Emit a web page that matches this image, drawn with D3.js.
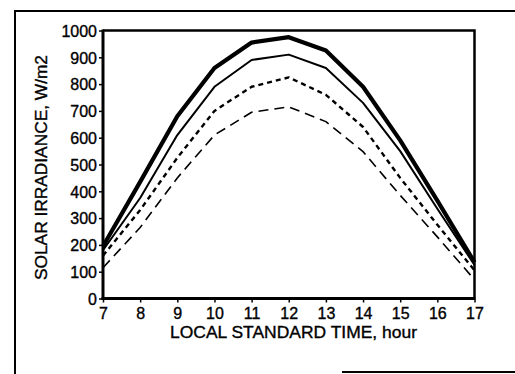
<!DOCTYPE html>
<html>
<head>
<meta charset="utf-8">
<script src="https://cdn.jsdelivr.net/npm/d3@7"></script>
<style>
  html, body { margin: 0; padding: 0; background: #fff; }
  svg { display: block; }
  text { font-family: "Liberation Sans", Arial, Helvetica, sans-serif; fill: #000; stroke: #000; stroke-width: 0.35px; }
</style>
</head>
<body>
<svg id="chart" width="515" height="374"></svg>
<script>
// ---- data ----
const hours = [7, 8, 9, 10, 11, 12, 13, 14, 15, 16, 17];
const seriesThick  = [195, 435, 680, 860, 955, 975, 925, 790, 590, 365, 135];
const seriesThin   = [180, 375, 610, 790, 890, 910, 860, 730, 550, 335, 125];
const seriesShort  = [160, 330, 525, 700, 790, 825, 760, 640, 450, 275, 105];
const seriesLong   = [115, 265, 450, 610, 695, 715, 660, 548, 385, 230, 70];
const yTicks = [0, 100, 200, 300, 400, 500, 600, 700, 800, 900, 1000];
const xTicks = [7, 8, 9, 10, 11, 12, 13, 14, 15, 16, 17];
const xTitle = "LOCAL STANDARD TIME, hour";
const yTitle = "SOLAR IRRADIANCE, W/m2";

const svg = d3.select("#chart");
const pLeft = 103, pRight = 474.5, pTop = 30.5, pBottom = 298.5;

const x = d3.scaleLinear().domain([7, 17]).range([pLeft, pRight]);
const y = d3.scaleLinear().domain([0, 1000]).range([pBottom, pTop]);

// outer frame (partial, as in the scan)
svg.append("path")
  .attr("d", `M15,374 L15,11 L515,11`)
  .attr("fill", "none").attr("stroke", "#000").attr("stroke-width", 2);
svg.append("line")
  .attr("x1", 342).attr("x2", 515).attr("y1", 372).attr("y2", 372)
  .attr("stroke", "#000").attr("stroke-width", 2);

// plot box top/right
svg.append("path")
  .attr("d", `M${pLeft},${pTop} L${pRight},${pTop} L${pRight},${pBottom}`)
  .attr("fill", "none").attr("stroke", "#000").attr("stroke-width", 2.5);

// axes
const yAxis = d3.axisLeft(y).tickValues(yTicks).tickSize(4).tickPadding(2).tickFormat(d3.format("d"));
const gy = svg.append("g").attr("transform", `translate(${pLeft},0)`).call(yAxis);
gy.select(".domain").remove();
gy.selectAll("line").attr("stroke", "#000").attr("stroke-width", 1.5);
gy.selectAll("text").style("font-size", "16px").attr("dy", "0.36em");

const xAxis = d3.axisBottom(x).tickValues(xTicks).tickSize(4).tickPadding(5).tickFormat(d3.format("d"));
const gx = svg.append("g").attr("transform", `translate(0,${pBottom})`).call(xAxis);
gx.select(".domain").remove();
gx.selectAll("line").attr("stroke", "#000").attr("stroke-width", 1.5);
gx.selectAll("text").style("font-size", "16px").attr("dy", "0.71em");

// axis lines (thick)
svg.append("line").attr("x1", pLeft).attr("x2", pLeft).attr("y1", pTop - 1).attr("y2", pBottom + 1.5)
  .attr("stroke", "#000").attr("stroke-width", 3);
svg.append("line").attr("x1", pLeft - 1.5).attr("x2", pRight + 1).attr("y1", pBottom).attr("y2", pBottom)
  .attr("stroke", "#000").attr("stroke-width", 3);

// series
const line = d3.line().x((d, i) => x(hours[i])).y(d => y(d));
const series = [
  { values: seriesThick, width: 4.2, dash: null },
  { values: seriesThin,  width: 2,   dash: null },
  { values: seriesShort, width: 2.4, dash: "5,4" },
  { values: seriesLong,  width: 1.6, dash: "10,6" }
];
series.forEach(s => {
  svg.append("path")
    .datum(s.values)
    .attr("d", line)
    .attr("fill", "none")
    .attr("stroke", "#000")
    .attr("stroke-width", s.width)
    .attr("stroke-linejoin", "round")
    .attr("stroke-dasharray", s.dash);
});

// titles
svg.append("text")
  .attr("x", 293.5).attr("y", 338)
  .attr("text-anchor", "middle")
  .attr("textLength", 247).attr("lengthAdjust", "spacingAndGlyphs")
  .style("font-size", "16.5px")
  .text(xTitle);

svg.append("text")
  .attr("transform", `translate(47,167.5) rotate(-90)`)
  .attr("text-anchor", "middle")
  .attr("textLength", 225).attr("lengthAdjust", "spacingAndGlyphs")
  .style("font-size", "16.5px")
  .text(yTitle);
</script>
</body>
</html>
